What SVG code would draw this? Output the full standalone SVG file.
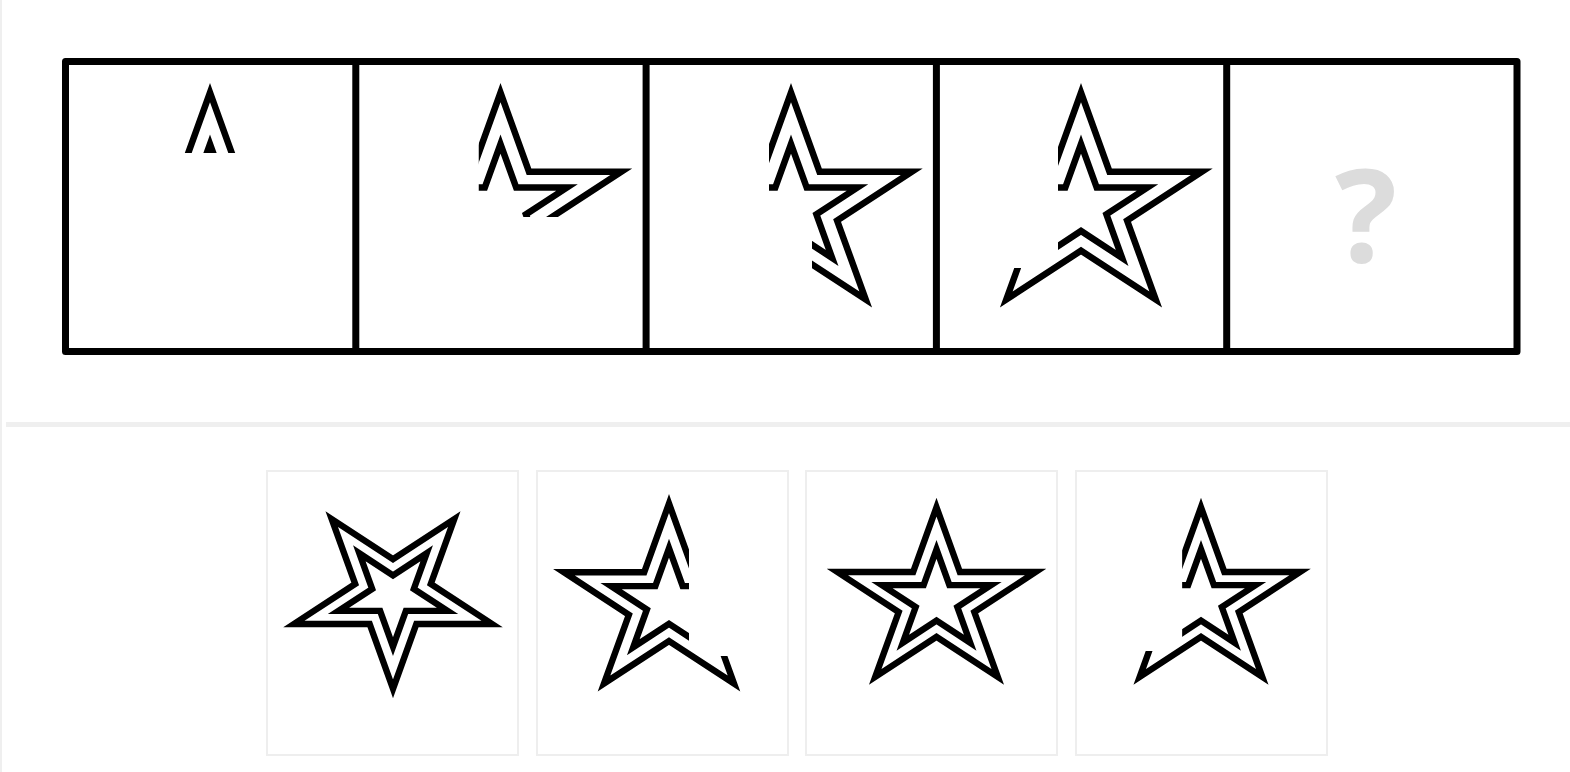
<svg xmlns="http://www.w3.org/2000/svg" xmlns:xlink="http://www.w3.org/1999/xlink" width="1570" height="772" viewBox="0 0 1570 772">
<style>
.st{fill:none;stroke:#000;stroke-linejoin:miter;stroke-miterlimit:6}
.p{stroke-width:6.5}
.o1{stroke-width:7.8}
.o2{stroke-width:7.4}
.frame{fill:none;stroke:#000;stroke-width:7;stroke-linejoin:round}
.box{fill:#fff;stroke:#eeeeee;stroke-width:2}
.q{font-family:"Open Sans","Liberation Sans",sans-serif;font-weight:700;font-size:130px;fill:#dcdcdc}
</style>
<defs>
<path id="so" d="M0,-114.3 L28.5,-35.3 L120.8,-35.3 L46.1,13.5 L74.7,92.5 L0,43.7 L-74.7,92.5 L-46.1,13.5 L-120.8,-35.3 L-28.5,-35.3 Z"/>
<path id="si" d="M0,-62.9 L15.7,-19.4 L66.4,-19.4 L25.4,7.4 L41.1,50.9 L0,24 L-41.1,50.9 L-25.4,7.4 L-66.4,-19.4 L-15.7,-19.4 Z"/>
<g id="star"><use xlink:href="#so"/><use xlink:href="#si"/></g>
<clipPath id="c1" clipPathUnits="userSpaceOnUse"><rect x="-200" y="-200" width="400" height="146"/></clipPath>
<clipPath id="c2" clipPathUnits="userSpaceOnUse"><path d="M-22,-200 H200 V10 H-18 V0 H-22 Z"/></clipPath>
<clipPath id="c3" clipPathUnits="userSpaceOnUse"><path d="M-22,-200 H200 V200 H21 V10 H-18 V0 H-22 Z"/></clipPath>
<clipPath id="c4" clipPathUnits="userSpaceOnUse"><path d="M-23,-200 H200 V200 H-200 V61 H-42 L-23,50 V15 H-18 V0 H-23 Z"/></clipPath>
</defs>
<rect x="0" y="0" width="1570" height="772" fill="#fff"/>
<rect x="0" y="0" width="2" height="772" fill="#efefef"/>
<rect x="6" y="422" width="1564" height="5" fill="#efefef"/>

<g id="panels">
<path class="frame" d="M65.5,61.5 H1517 V351.5 H65.5 Z M355.8,61.5 V351.5 M646.1,61.5 V351.5 M936.4,61.5 V351.5 M1226.7,61.5 V351.5"/>
</g>
<g id="panel1"><g transform="translate(210,207)"><use xlink:href="#star" class="st p" clip-path="url(#c1)"/></g></g>
<g id="panel2"><g transform="translate(500.5,207)"><use xlink:href="#star" class="st p" clip-path="url(#c2)"/></g></g>
<g id="panel3"><g transform="translate(791,207)"><use xlink:href="#star" class="st p" clip-path="url(#c3)"/></g></g>
<g id="panel4"><g transform="translate(1081,207)"><use xlink:href="#star" class="st p" clip-path="url(#c4)"/></g></g>
<g id="panel5"><text class="q" x="1366" y="262" text-anchor="middle">?</text></g>

<g id="option1"><rect class="box" x="267" y="471" width="251" height="284"/>
<g transform="translate(393,595) rotate(180) scale(0.82)"><use xlink:href="#star" class="st o1"/></g></g>
<g id="option2"><rect class="box" x="537" y="471" width="251" height="284"/>
<g transform="translate(669,603) scale(-0.87,0.87)"><use xlink:href="#star" class="st o2" clip-path="url(#c4)"/></g></g>
<g id="option3"><rect class="box" x="806" y="471" width="251" height="284"/>
<g transform="translate(936.5,601) scale(0.82)"><use xlink:href="#star" class="st o1"/></g></g>
<g id="option4"><rect class="box" x="1076" y="471" width="251" height="284"/>
<g transform="translate(1201,601) scale(0.82)"><use xlink:href="#star" class="st o1" clip-path="url(#c4)"/></g></g>
<g id="connectors"/>
</svg>
